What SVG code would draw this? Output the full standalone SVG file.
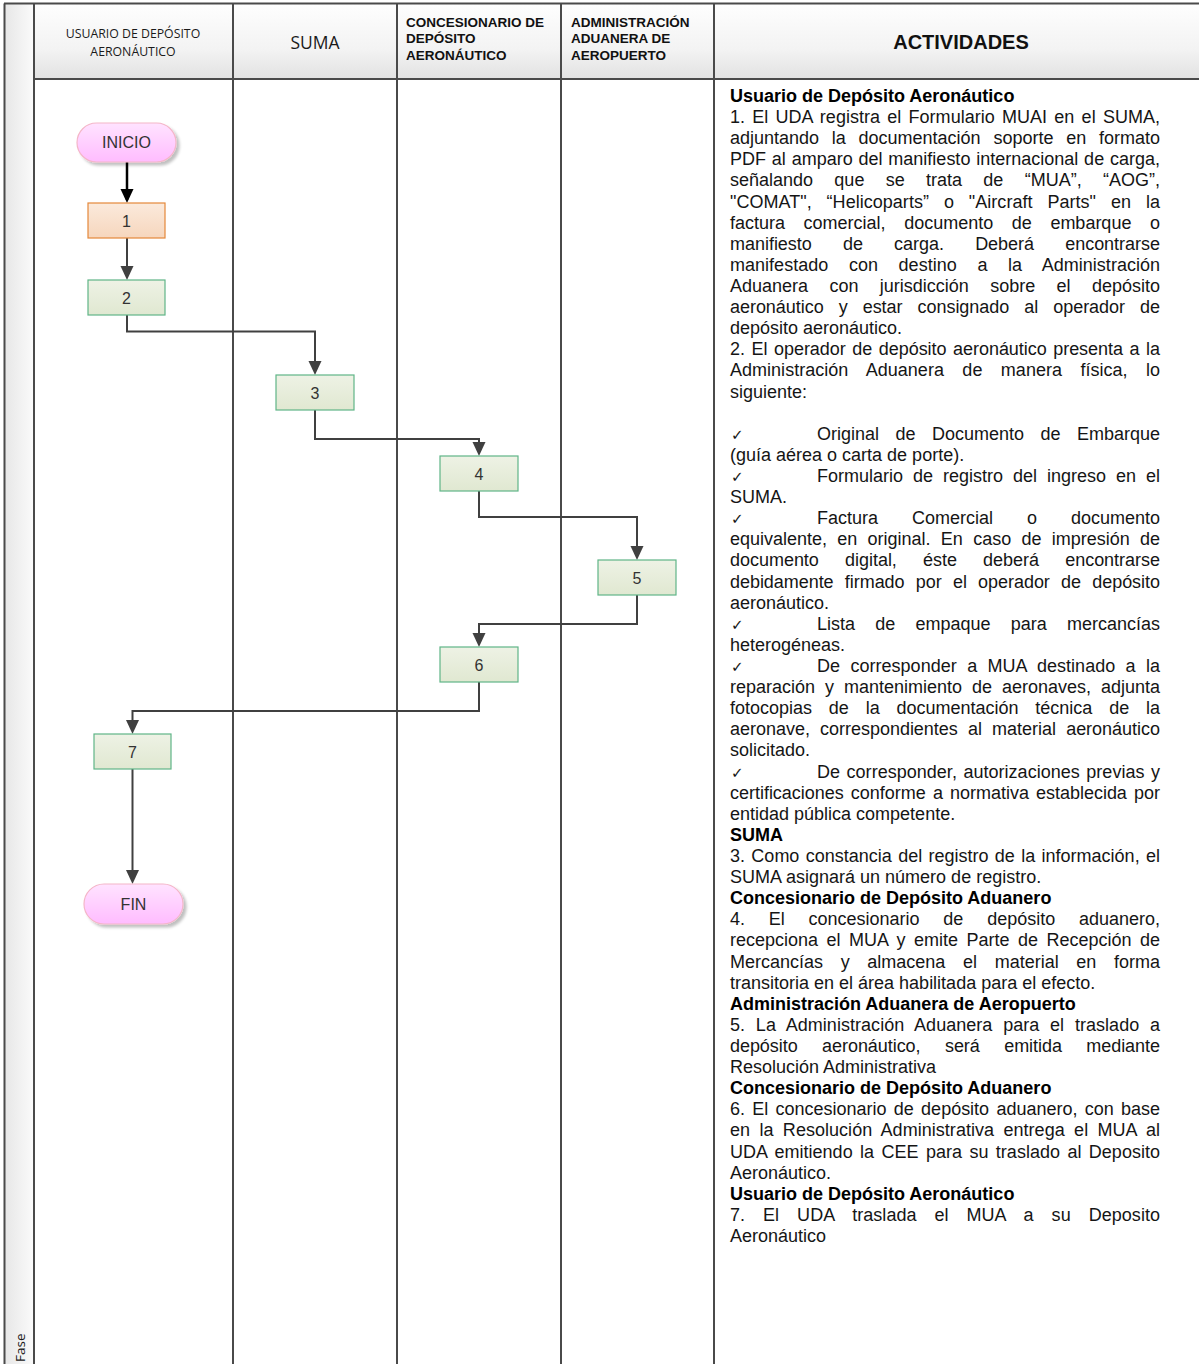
<svg xmlns="http://www.w3.org/2000/svg" width="1199" height="1364" viewBox="0 0 1199 1364">
<style>
.frame{stroke:#4a4a4a;stroke-width:2;fill:none}
.hdr{font-family:"Open Sans","Liberation Sans",sans-serif;fill:#1a1a1a}
.hb{font-family:"Liberation Sans",Arial,sans-serif;font-weight:bold;fill:#111;font-size:13.5px}
.act{font-family:"Liberation Sans",Arial,sans-serif;font-size:18px;fill:#151515}
.actb{font-family:"Liberation Sans",Arial,sans-serif;font-size:18px;font-weight:bold;fill:#000}
.chk{font-family:"DejaVu Sans",sans-serif;font-size:15px;fill:#151515}
.conn{fill:none;stroke:#404040;stroke-width:2;marker-end:url(#arr)}
.nlabel{font-family:"Liberation Sans",Arial,sans-serif;font-size:16px;fill:#333;text-anchor:middle}
.plabel{font-family:"Liberation Sans",Arial,sans-serif;font-size:16px;fill:#333;text-anchor:middle}
.green{fill:url(#gGreen);stroke:#5fb587;stroke-width:1.2}
.orange{fill:url(#gOrange);stroke:#e4883a;stroke-width:1.2}
.pill{fill:url(#gPink);stroke:#f4b6c8;stroke-width:1.2;filter:url(#shadow)}
</style>
<defs>
<linearGradient id="gHdr" x1="0" y1="0" x2="0" y2="1">
<stop offset="0" stop-color="#fefefe"/><stop offset="0.6" stop-color="#f3f3f3"/><stop offset="1" stop-color="#e2e2e2"/>
</linearGradient>
<linearGradient id="gFase" x1="0" y1="0" x2="1" y2="0">
<stop offset="0" stop-color="#e6e6e6"/><stop offset="1" stop-color="#fbfbfb"/>
</linearGradient>
<linearGradient id="gGreen" x1="0" y1="0" x2="0" y2="1">
<stop offset="0" stop-color="#eef2e5"/><stop offset="1" stop-color="#e0e8d1"/>
</linearGradient>
<linearGradient id="gOrange" x1="0" y1="0" x2="0" y2="1">
<stop offset="0" stop-color="#fbeadc"/><stop offset="1" stop-color="#f6d6bd"/>
</linearGradient>
<linearGradient id="gPink" x1="0" y1="0" x2="0" y2="1">
<stop offset="0" stop-color="#ffe3ff"/><stop offset="1" stop-color="#ffbcff"/>
</linearGradient>
<filter id="shadow" x="-20%" y="-30%" width="150%" height="170%">
<feGaussianBlur in="SourceAlpha" stdDeviation="1.5"/>
<feOffset dx="3" dy="3" result="o"/>
<feComponentTransfer><feFuncA type="linear" slope="0.25"/></feComponentTransfer>
<feMerge><feMergeNode/><feMergeNode in="SourceGraphic"/></feMerge>
</filter>
<marker id="arr" markerUnits="userSpaceOnUse" markerWidth="14" markerHeight="14" viewBox="0 0 14 14" refX="11" refY="7" orient="auto">
<path d="M0,0.5 L14,7 L0,13.5 Z" fill="#404040"/>
</marker>
<marker id="arrK" markerUnits="userSpaceOnUse" markerWidth="14" markerHeight="14" viewBox="0 0 14 14" refX="11" refY="7" orient="auto">
<path d="M0,0.5 L14,7 L0,13.5 Z" fill="#000"/>
</marker>
</defs>

<g id="frame">
<rect x="4" y="4" width="30" height="1360" fill="url(#gFase)"/>
<rect x="34" y="4" width="1165" height="75" fill="url(#gHdr)"/>
<line class="frame" x1="4" y1="3.5" x2="1199" y2="3.5"/>
<line class="frame" x1="4.5" y1="3.5" x2="4.5" y2="1364"/>
<line class="frame" x1="34" y1="3.5" x2="34" y2="1364"/>
<line class="frame" x1="233" y1="3.5" x2="233" y2="1364"/>
<line class="frame" x1="397" y1="3.5" x2="397" y2="1364"/>
<line class="frame" x1="561" y1="3.5" x2="561" y2="1364"/>
<line class="frame" x1="714" y1="3.5" x2="714" y2="1364"/>
<line class="frame" x1="34" y1="79" x2="1199" y2="79"/>
<text class="hdr" font-size="13.5" transform="rotate(-90 25 1362)" x="25" y="1362">Fase</text>
</g>

<g id="headers">
<text class="hdr" font-size="12.3" text-anchor="middle" x="133" y="37.5">USUARIO DE DEPÓSITO</text>
<text class="hdr" font-size="12.3" text-anchor="middle" x="133" y="55.5">AERONÁUTICO</text>
<text class="hdr" font-size="17.5" text-anchor="middle" x="315" y="48.5">SUMA</text>
<text class="hb" x="406" y="27">CONCESIONARIO DE</text>
<text class="hb" x="406" y="43">DEPÓSITO</text>
<text class="hb" x="406" y="59.5">AERONÁUTICO</text>
<text class="hb" x="571" y="27">ADMINISTRACIÓN</text>
<text class="hb" x="571" y="43">ADUANERA DE</text>
<text class="hb" x="571" y="59.5">AEROPUERTO</text>
<text font-family="Liberation Sans, Arial, sans-serif" font-weight="bold" font-size="20" fill="#111" text-anchor="middle" x="961" y="49.3">ACTIVIDADES</text>
</g>

<g id="connectors">
<path d="M127,162 V200" fill="none" stroke="#000" stroke-width="2.5" marker-end="url(#arrK)"/>
<path class="conn" d="M127,238 V277"/>
<path class="conn" d="M127,315 V331.5 H315 V372"/>
<path class="conn" d="M315,410 V439 H479 V453"/>
<path class="conn" d="M479,491 V517 H637 V557"/>
<path class="conn" d="M637,595 V624 H479 V644"/>
<path class="conn" d="M479,682 V711 H132.5 V731"/>
<path class="conn" d="M132.5,769 V881"/>
</g>

<g id="node-inicio">
<rect class="pill" x="77" y="123" width="99" height="39" rx="19.5"/>
<text class="plabel" x="126.5" y="148">INICIO</text>
</g>
<g id="node-1">
<rect class="orange" x="88" y="203" width="77" height="35"/>
<text class="nlabel" x="126.5" y="226.5">1</text>
</g>
<g id="node-2">
<rect class="green" x="88" y="280" width="77" height="35"/>
<text class="nlabel" x="126.5" y="303.5">2</text>
</g>
<g id="node-3">
<rect class="green" x="276" y="375" width="78" height="35"/>
<text class="nlabel" x="315" y="398.5">3</text>
</g>
<g id="node-4">
<rect class="green" x="440" y="456" width="78" height="35"/>
<text class="nlabel" x="479" y="479.5">4</text>
</g>
<g id="node-5">
<rect class="green" x="598" y="560" width="78" height="35"/>
<text class="nlabel" x="637" y="583.5">5</text>
</g>
<g id="node-6">
<rect class="green" x="440" y="647" width="78" height="35"/>
<text class="nlabel" x="479" y="670.5">6</text>
</g>
<g id="node-7">
<rect class="green" x="94" y="734" width="77" height="35"/>
<text class="nlabel" x="132.5" y="757.5">7</text>
</g>
<g id="node-fin">
<rect class="pill" x="84" y="884" width="99" height="40" rx="20"/>
<text class="plabel" x="133.5" y="910">FIN</text>
</g>

<g id="actividades">
<text class="actb" x="730" y="102">Usuario de Depósito Aeronáutico</text>
<text class="act" x="730" y="123.1" word-spacing="2.2" textLength="430" lengthAdjust="spacing">1. El UDA registra el Formulario MUAI en el SUMA,</text>
<text class="act" x="730" y="144.2" word-spacing="7.8" textLength="430" lengthAdjust="spacing">adjuntando la documentación soporte en formato</text>
<text class="act" x="730" y="165.3" word-spacing="0.8" textLength="430" lengthAdjust="spacing">PDF al amparo del manifiesto internacional de carga,</text>
<text class="act" x="730" y="186.4" word-spacing="16.3" textLength="430" lengthAdjust="spacing">señalando que se trata de “MUA”, “AOG”,</text>
<text class="act" x="730" y="207.6" word-spacing="9.9" textLength="430" lengthAdjust="spacing">"COMAT", “Helicoparts” o "Aircraft Parts" en la</text>
<text class="act" x="730" y="228.7" word-spacing="13.6" textLength="430" lengthAdjust="spacing">factura comercial, documento de embarque o</text>
<text class="act" x="730" y="249.8" word-spacing="26.2" textLength="430" lengthAdjust="spacing">manifiesto de carga. Deberá encontrarse</text>
<text class="act" x="730" y="270.9" word-spacing="15.6" textLength="430" lengthAdjust="spacing">manifestado con destino a la Administración</text>
<text class="act" x="730" y="292" word-spacing="16.4" textLength="430" lengthAdjust="spacing">Aduanera con jurisdicción sobre el depósito</text>
<text class="act" x="730" y="313.1" word-spacing="10.1" textLength="430" lengthAdjust="spacing">aeronáutico y estar consignado al operador de</text>
<text class="act" x="730" y="334.2">depósito aeronáutico.</text>
<text class="act" x="730" y="355.3" word-spacing="1.6" textLength="430" lengthAdjust="spacing">2. El operador de depósito aeronáutico presenta a la</text>
<text class="act" x="730" y="376.4" word-spacing="13.4" textLength="430" lengthAdjust="spacing">Administración Aduanera de manera física, lo</text>
<text class="act" x="730" y="397.5">siguiente:</text>
<text class="chk" x="731" y="439.8">✓</text>
<text class="act" x="817" y="439.8" word-spacing="11.5" textLength="343" lengthAdjust="spacing">Original de Documento de Embarque</text>
<text class="act" x="730" y="460.9">(guía aérea o carta de porte).</text>
<text class="chk" x="731" y="482">✓</text>
<text class="act" x="817" y="482" word-spacing="5" textLength="343" lengthAdjust="spacing">Formulario de registro del ingreso en el</text>
<text class="act" x="730" y="503.1">SUMA.</text>
<text class="chk" x="731" y="524.2">✓</text>
<text class="act" x="817" y="524.2" word-spacing="29" textLength="343" lengthAdjust="spacing">Factura Comercial o documento</text>
<text class="act" x="730" y="545.3" word-spacing="5.3" textLength="430" lengthAdjust="spacing">equivalente, en original. En caso de impresión de</text>
<text class="act" x="730" y="566.4" word-spacing="21.2" textLength="430" lengthAdjust="spacing">documento digital, éste deberá encontrarse</text>
<text class="act" x="730" y="587.5" word-spacing="6.3" textLength="430" lengthAdjust="spacing">debidamente firmado por el operador de depósito</text>
<text class="act" x="730" y="608.6">aeronáutico.</text>
<text class="chk" x="731" y="629.8">✓</text>
<text class="act" x="817" y="629.8" word-spacing="15.2" textLength="343" lengthAdjust="spacing">Lista de empaque para mercancías</text>
<text class="act" x="730" y="650.9">heterogéneas.</text>
<text class="chk" x="731" y="672">✓</text>
<text class="act" x="817" y="672" word-spacing="5.3" textLength="343" lengthAdjust="spacing">De corresponder a MUA destinado a la</text>
<text class="act" x="730" y="693.1" word-spacing="5" textLength="430" lengthAdjust="spacing">reparación y mantenimiento de aeronaves, adjunta</text>
<text class="act" x="730" y="714.2" word-spacing="11.8" textLength="430" lengthAdjust="spacing">fotocopias de la documentación técnica de la</text>
<text class="act" x="730" y="735.3" word-spacing="5.2" textLength="430" lengthAdjust="spacing">aeronave, correspondientes al material aeronáutico</text>
<text class="act" x="730" y="756.4">solicitado.</text>
<text class="chk" x="731" y="777.5">✓</text>
<text class="act" x="817" y="777.5" word-spacing="1.5" textLength="343" lengthAdjust="spacing">De corresponder, autorizaciones previas y</text>
<text class="act" x="730" y="798.6" word-spacing="2.2" textLength="430" lengthAdjust="spacing">certificaciones conforme a normativa establecida por</text>
<text class="act" x="730" y="819.7">entidad pública competente.</text>
<text class="actb" x="730" y="840.9">SUMA</text>
<text class="act" x="730" y="862" word-spacing="1.35" textLength="430" lengthAdjust="spacing">3. Como constancia del registro de la información, el</text>
<text class="act" x="730" y="883.1">SUMA asignará un número de registro.</text>
<text class="actb" x="730" y="904.2">Concesionario de Depósito Aduanero</text>
<text class="act" x="730" y="925.3" word-spacing="18.8" textLength="430" lengthAdjust="spacing">4. El concesionario de depósito aduanero,</text>
<text class="act" x="730" y="946.4" word-spacing="3.5" textLength="430" lengthAdjust="spacing">recepciona el MUA y emite Parte de Recepción de</text>
<text class="act" x="730" y="967.5" word-spacing="12.6" textLength="430" lengthAdjust="spacing">Mercancías y almacena el material en forma</text>
<text class="act" x="730" y="988.6">transitoria en el área habilitada para el efecto.</text>
<text class="actb" x="730" y="1009.7">Administración Aduanera de Aeropuerto</text>
<text class="act" x="730" y="1030.8" word-spacing="5.7" textLength="430" lengthAdjust="spacing">5. La Administración Aduanera para el traslado a</text>
<text class="act" x="730" y="1052" word-spacing="19.5" textLength="430" lengthAdjust="spacing">depósito aeronáutico, será emitida mediante</text>
<text class="act" x="730" y="1073.1">Resolución Administrativa</text>
<text class="actb" x="730" y="1094.2">Concesionario de Depósito Aduanero</text>
<text class="act" x="730" y="1115.3" word-spacing="2.3" textLength="430" lengthAdjust="spacing">6. El concesionario de depósito aduanero, con base</text>
<text class="act" x="730" y="1136.4" word-spacing="4.3" textLength="430" lengthAdjust="spacing">en la Resolución Administrativa entrega el MUA al</text>
<text class="act" x="730" y="1157.5" word-spacing="2.35" textLength="430" lengthAdjust="spacing">UDA emitiendo la CEE para su traslado al Deposito</text>
<text class="act" x="730" y="1178.6">Aeronáutico.</text>
<text class="actb" x="730" y="1199.7">Usuario de Depósito Aeronáutico</text>
<text class="act" x="730" y="1220.8" word-spacing="12.9" textLength="430" lengthAdjust="spacing">7. El UDA traslada el MUA a su Deposito</text>
<text class="act" x="730" y="1241.9">Aeronáutico</text>
</g>
</svg>
